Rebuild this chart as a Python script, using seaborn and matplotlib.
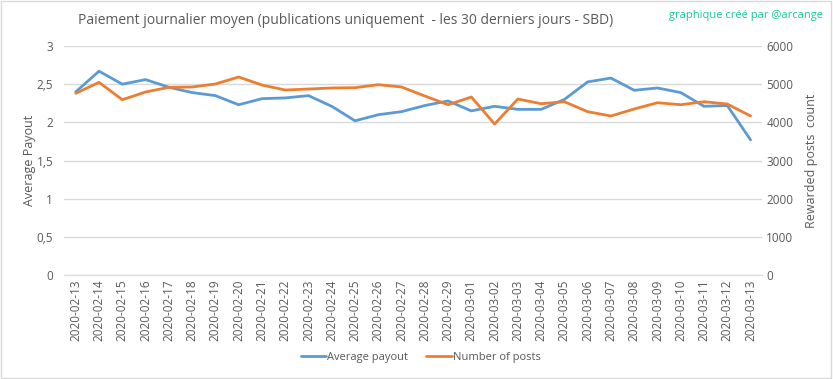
import pandas as pd
import matplotlib.pyplot as plt
import seaborn as sns
from matplotlib.patches import Rectangle
from matplotlib.lines import Line2D

dates = pd.date_range("2020-02-13", "2020-03-13").strftime("%Y-%m-%d").tolist()

avg_payout = [2.40, 2.67, 2.50, 2.56, 2.46, 2.39, 2.35, 2.23, 2.31, 2.32,
              2.35, 2.21, 2.02, 2.10, 2.14, 2.22, 2.28, 2.15, 2.21, 2.17,
              2.17, 2.30, 2.53, 2.58, 2.42, 2.45, 2.39, 2.21, 2.22, 1.77]

num_posts = [4760, 5048, 4593, 4795, 4917, 4926, 5004, 5188, 4978, 4847,
             4873, 4900, 4908, 4987, 4926, 4690, 4462, 4664, 3956, 4611,
             4488, 4540, 4279, 4166, 4350, 4514, 4462, 4540, 4480, 4166]

left_ticks = [0, 0.5, 1, 1.5, 2, 2.5, 3]
left_labels = ["0", "0,5", "1", "1,5", "2", "2,5", "3"]
right_ticks = [0, 1000, 2000, 3000, 4000, 5000, 6000]

BLUE = "#5B9BD5"
ORANGE = "#ED7D31"
GREY = "#595959"

sns.set_style("white")
plt.rcParams["font.family"] = ["Open Sans", "DejaVu Sans"]

df = pd.DataFrame({"idx": range(len(dates)), "payout": avg_payout, "posts": num_posts})

fig = plt.figure(figsize=(8.33, 3.79), dpi=100)
ax = fig.add_axes([0.077, 0.2744, 0.838, 0.6042])
ax2 = ax.twinx()

sns.lineplot(data=df, x="idx", y="payout", ax=ax, color=BLUE, linewidth=2)
sns.lineplot(data=df, x="idx", y="posts", ax=ax2, color=ORANGE, linewidth=2)

ax.set_xlim(-0.5, len(dates) - 0.5)
ax.set_ylim(0, 3)
ax2.set_ylim(0, 6000)
ax.set_yticks(left_ticks)
ax.set_yticklabels(left_labels)
ax2.set_yticks(right_ticks)
ax.set_xticks(range(len(dates)))
ax.set_xticklabels(dates, rotation=90)

ax.grid(axis="y", color="#D9D9D9", linewidth=1)
ax.set_axisbelow(True)
for a in (ax, ax2):
    for s in a.spines.values():
        s.set_visible(False)
    a.tick_params(length=0, labelsize=8.5, labelcolor=GREY)
ax.spines["bottom"].set_visible(True)
ax.spines["bottom"].set_color("#D9D9D9")
ax.tick_params(axis="y", pad=8)
ax2.tick_params(axis="y", pad=3)

ax.set_xlabel("")
ax.set_ylabel("Average Payout", fontsize=9, color=GREY, labelpad=0)
ax2.set_ylabel("Rewarded posts  count", fontsize=9, color=GREY, labelpad=8)

fig.text(0.094, 0.945, "Paiement journalier moyen (publications uniquement  - les 30 derniers jours - SBD)",
         fontsize=10, color=GREY, va="center", ha="left")
fig.text(0.988, 0.958, "graphique créé par @arcange", fontsize=8, color="#17C99A",
         va="center", ha="right")

handles = [Line2D([], [], color=BLUE, lw=2), Line2D([], [], color=ORANGE, lw=2)]
fig.legend(handles, ["Average payout", "Number of posts"], loc="center",
           bbox_to_anchor=(0.505, 0.058), ncol=2, frameon=False, fontsize=8,
           labelcolor=GREY, handlelength=2.3, handletextpad=0.1, columnspacing=1.6)

fig.patches.append(Rectangle((0.001, 0.002), 0.997, 0.995, transform=fig.transFigure,
                             fill=False, edgecolor="#D9D9D9", linewidth=1))

fig.savefig("out.png", dpi=100, facecolor="white")
